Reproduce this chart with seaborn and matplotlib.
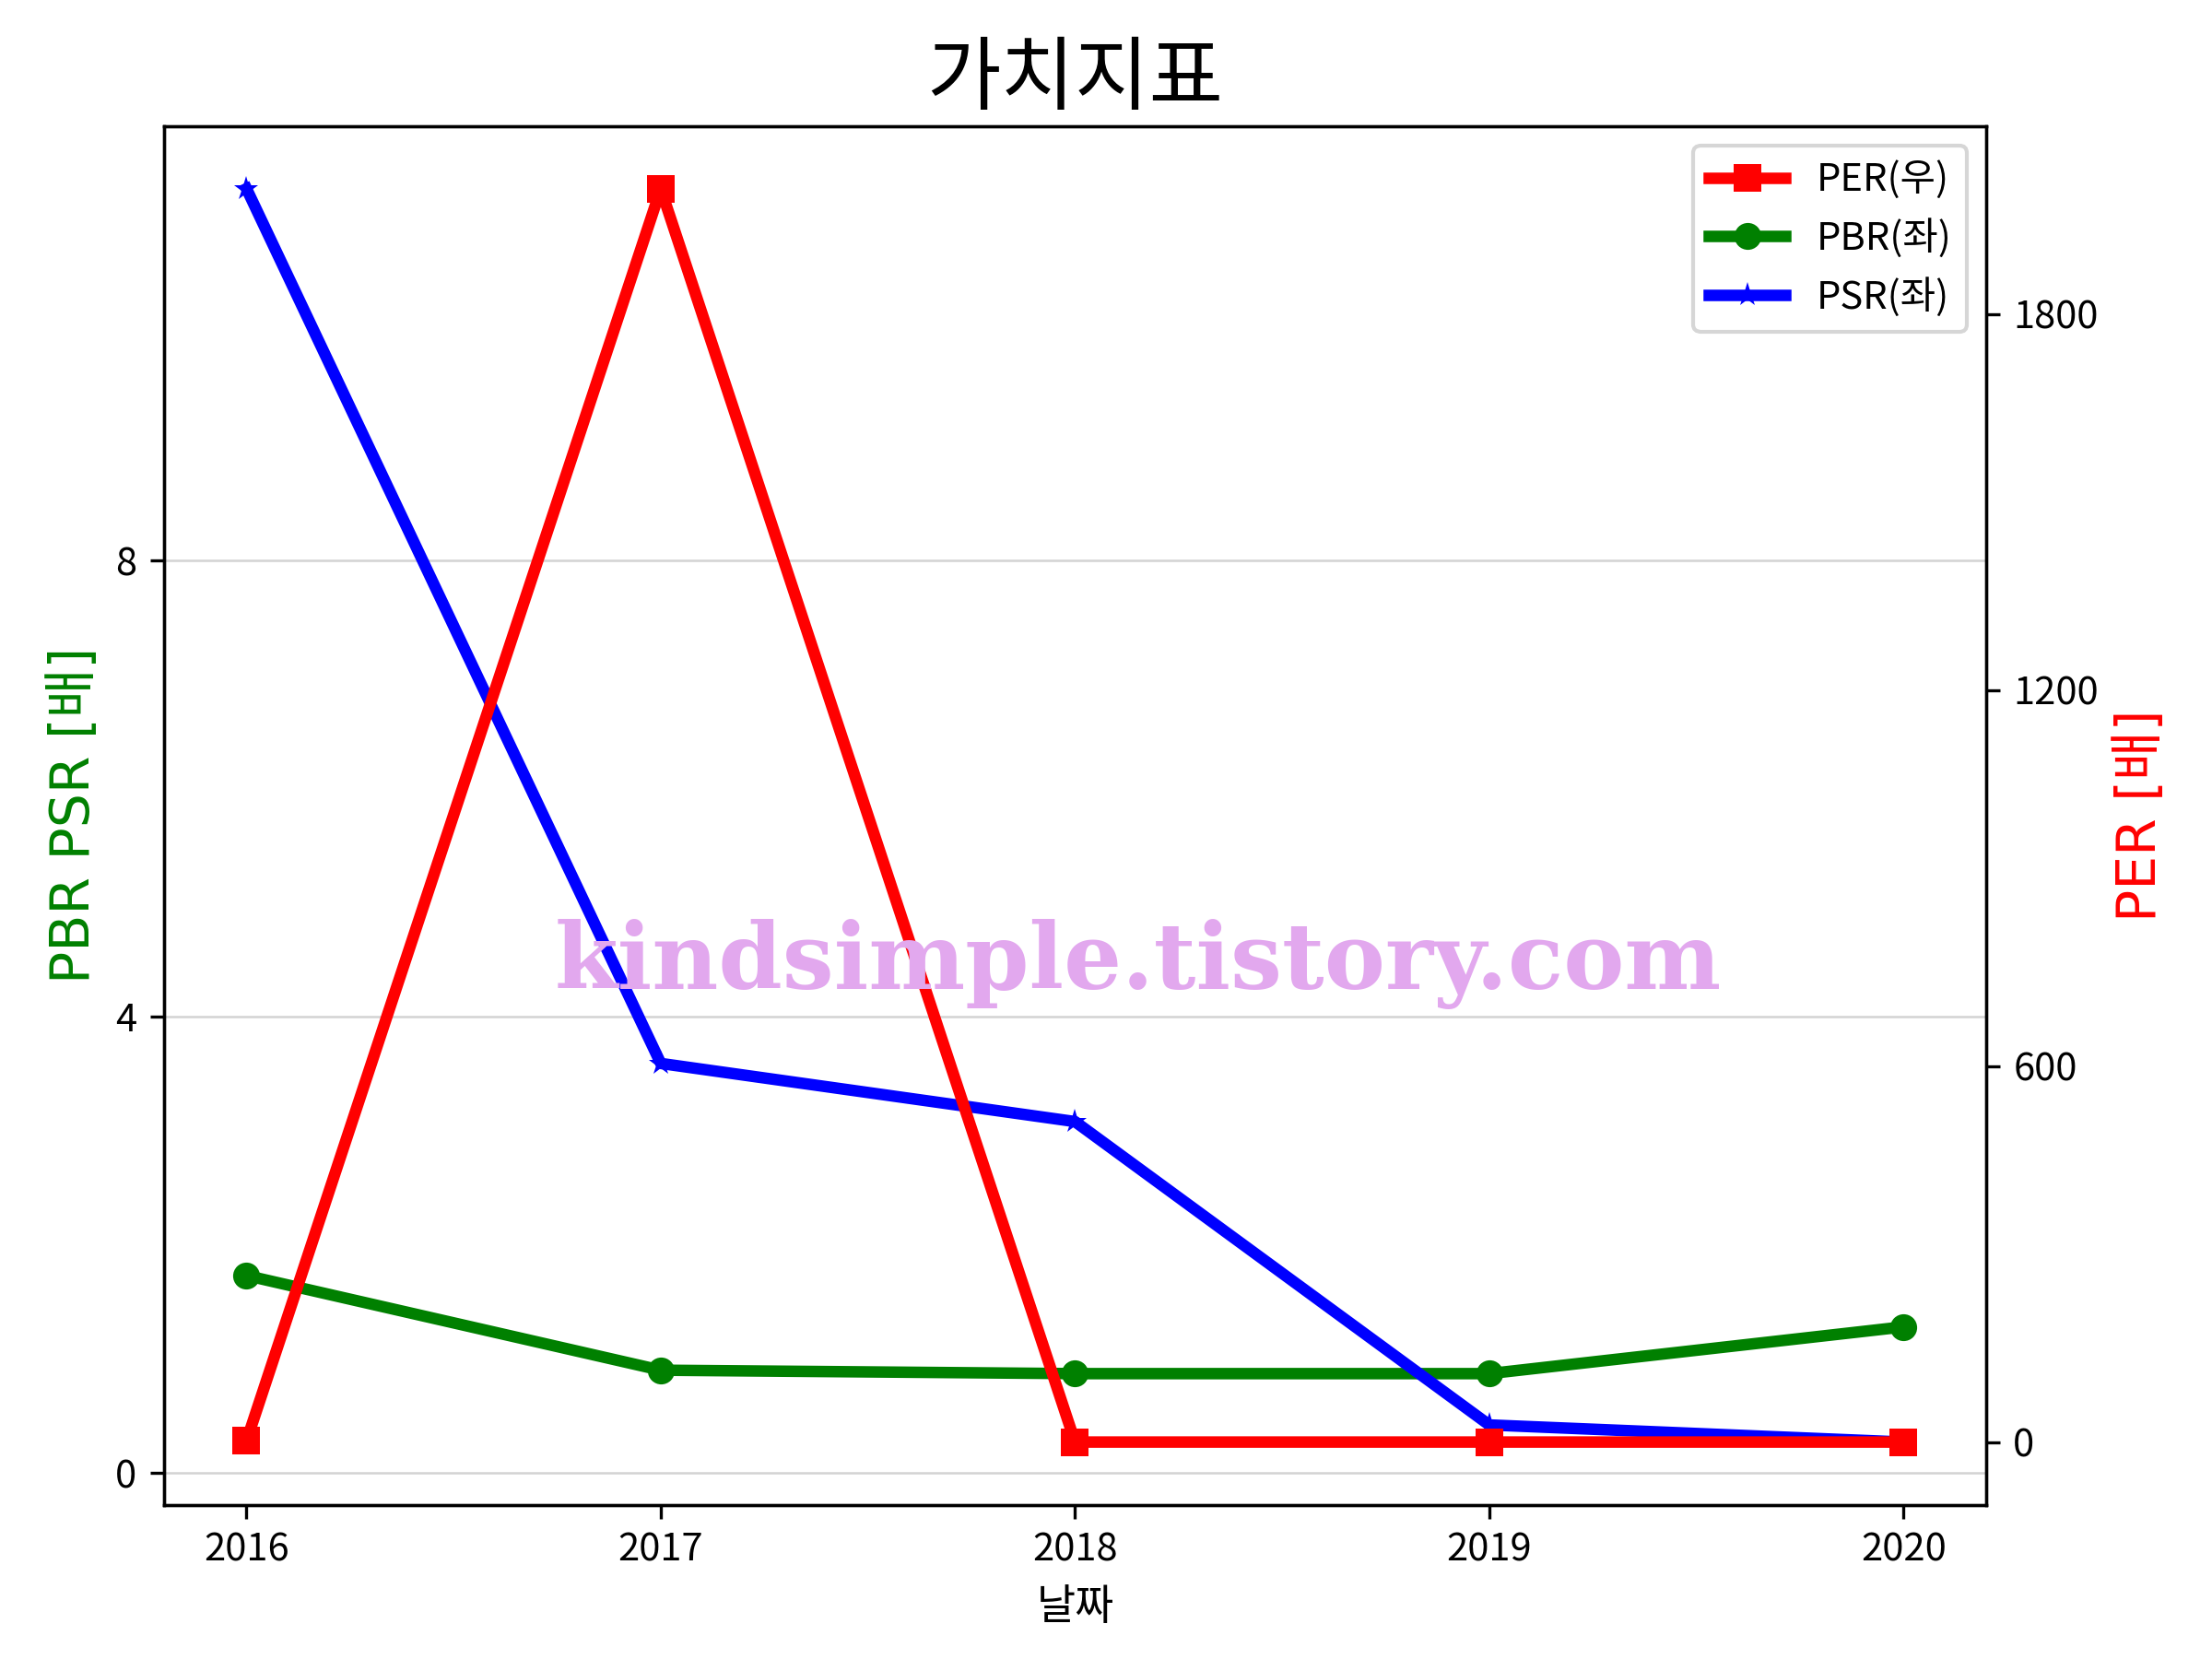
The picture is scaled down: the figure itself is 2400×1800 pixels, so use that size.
import matplotlib
matplotlib.use("Agg")
import matplotlib.pyplot as plt
import seaborn as sns
import pandas as pd

# ---------- DATA ------------------------------------------------------------------
years = [2016, 2017, 2018, 2019, 2020]
per = [2, 2000, 0, 0, 0]
pbr = [1.73, 0.90, 0.87, 0.87, 1.28]
psr = [11.26, 3.59, 3.08, 0.42, 0.27]

df = pd.DataFrame({"날짜": years, "PER": per, "PBR": pbr, "PSR": psr})

plt.rcParams["font.family"] = ["Noto Sans CJK KR", "DejaVu Sans"]
plt.rcParams["axes.unicode_minus"] = False

fig, ax = plt.subplots(figsize=(8, 6), dpi=300)
ax2 = ax.twinx()

# ---------- LINES -----------------------------------------------------------------
sns.lineplot(data=df, x="날짜", y="PER", ax=ax2, color="red", marker="s",
             markersize=7, markeredgewidth=0, linewidth=3, label="PER(우)", legend=False)
sns.lineplot(data=df, x="날짜", y="PBR", ax=ax, color="green", marker="o",
             markersize=7, markeredgewidth=0, linewidth=3, label="PBR(좌)", legend=False)
sns.lineplot(data=df, x="날짜", y="PSR", ax=ax, color="blue", marker="*",
             markersize=6.5, markeredgewidth=0, linewidth=3, label="PSR(좌)", legend=False)

ax.set_xticks(years)
ax.set_yticks([0, 4, 8])
ax2.set_yticks([0, 600, 1200, 1800])
ax.grid(axis="y", color="lightgray", linewidth=0.6)
ax.set_axisbelow(True)

ylab_font = ["DejaVu Sans", "Noto Sans CJK KR"]
ax.set_title("가치지표", fontsize=21)
ax.set_xlabel("날짜", fontsize=11)
ax.set_ylabel("PBR PSR [배]", color="green", fontsize=14, family=ylab_font)
ax2.set_ylabel("PER [배]", color="red", fontsize=14, family=ylab_font)

# combined legend
h1, l1 = ax2.get_legend_handles_labels()
h2, l2 = ax.get_legend_handles_labels()
ax2.legend(h1 + h2, l1 + l2, loc="upper right", fontsize=10)

# watermark
fig.text(0.5145, 0.419, "kindsimple.tistory.com", fontsize=23.8, fontweight="bold",
         family="DejaVu Serif", color="#e2a8ee", ha="center", va="center", zorder=10)

fig.subplots_adjust(left=0.074, right=0.898, bottom=0.093, top=0.924)
fig.savefig("out.png", dpi=300)
